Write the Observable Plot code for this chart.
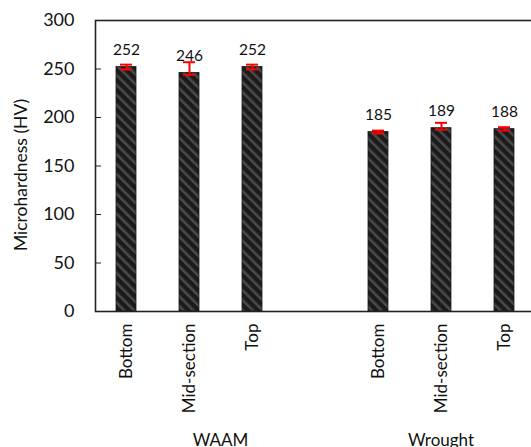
<!DOCTYPE html>
<html>
<head>
<meta charset="utf-8">
<script src="https://cdn.jsdelivr.net/npm/d3@7"></script>
<script src="https://cdn.jsdelivr.net/npm/@observablehq/plot@0.6"></script>
<style>
  body { margin: 0; background: #fff; }
  #chart svg { overflow: hidden; display: block; }
</style>
</head>
<body>
<div id="chart"></div>
<script>
// Microhardness of WAAM and wrought samples by sampling position
const groups = ["WAAM", "WAAM", "WAAM", "Wrought", "Wrought", "Wrought"];
const positions = ["Bottom", "Mid-section", "Top", "Bottom", "Mid-section", "Top"];
const hardness = [252, 246, 252, 185, 189, 188];
const errLow = [249.5, 244, 249.5, 183.5, 187.5, 186.5];
const errHigh = [254.5, 257, 254.5, 186.5, 194.5, 190];
const groupNames = ["WAAM", "Wrought"];
const yTicks = [0, 50, 100, 150, 200, 250, 300];

const key = (g, p) => g + "|" + p;
const rows = hardness.map((v, i) => ({
  key: key(groups[i], positions[i]),
  group: groups[i],
  value: v,
  low: errLow[i],
  high: errHigh[i]
}));

// an empty slot closes the WAAM group before the wrought samples
const domain = [
  ...rows.filter(d => d.group === "WAAM").map(d => d.key),
  key("WAAM", ""),
  ...rows.filter(d => d.group === "Wrought").map(d => d.key)
];

// group captions centred under the slots of each group
function groupLabels(index, scales, values, dims) {
  const x = scales.x;
  const bw = typeof x.bandwidth === "function" ? x.bandwidth() : +x.bandwidth || 0;
  const g = d3.create("svg:g")
    .attr("font-size", 17)
    .attr("fill", "#111")
    .attr("text-anchor", "middle");
  for (const name of groupNames) {
    const keys = domain.filter(k => k.startsWith(name + "|"));
    const cx = (x(keys[0]) + x(keys[keys.length - 1]) + bw) / 2;
    g.append("text").attr("x", cx).attr("y", dims.height - 1).text(name);
  }
  return g.node();
}

const chart = Plot.plot({
  width: 531,
  height: 447,
  marginLeft: 95,
  marginRight: -5,
  marginTop: 20,
  marginBottom: 136,
  style: { fontFamily: "Lato", fontSize: "17px", color: "#111", background: "#fff" },
  x: {
    type: "band",
    domain,
    paddingInner: 0.68,
    paddingOuter: 0.34,
    label: null
  },
  y: { domain: [0, 300], label: null },
  marks: [
    Plot.barY(rows, { x: "key", y: "value", fill: "url(#hatch)", stroke: "#1a1a1a", strokeWidth: 0.8 }),
    Plot.ruleX(rows, { x: "key", y1: "low", y2: "high", stroke: "#ff0000", strokeWidth: 2 }),
    Plot.tickY(rows, { x: "key", y: "low", stroke: "#ff0000", strokeWidth: 2, inset: 4 }),
    Plot.tickY(rows, { x: "key", y: "high", stroke: "#ff0000", strokeWidth: 2, inset: 4 }),
    Plot.text(rows, { x: "key", y: "value", text: d => String(d.value), dy: -12, lineAnchor: "bottom", fontSize: 15.5, fill: "#111" }),
    Plot.axisY({ ticks: yTicks, tickSize: -6, tickPadding: 27, label: null, stroke: "#222", fontSize: 18 }),
    Plot.axisX({ tickRotate: -90, tickSize: 0, tickPadding: 12, label: null, tickFormat: d => d.split("|")[1] }),
    Plot.frame({ stroke: "#222", strokeWidth: 1.6 }),
    Plot.text(["Microhardness (HV)"], { frameAnchor: "left", textAnchor: "middle", dx: -74, dy: 9, rotate: -90, fontSize: 17.5, fill: "#111" }),
    groupLabels
  ]
});

// diagonal hatch used as the bar fill
const svg = d3.select(chart.tagName.toLowerCase() === "svg" ? chart : chart.querySelector("svg"));
const defs = svg.insert("defs", ":first-child");
const pat = defs.append("pattern")
  .attr("id", "hatch")
  .attr("patternUnits", "userSpaceOnUse")
  .attr("width", 7)
  .attr("height", 7)
  .attr("patternTransform", "rotate(-45)");
pat.append("rect").attr("width", 7).attr("height", 7).attr("fill", "#1b1b1b");
pat.append("rect").attr("width", 2.6).attr("height", 7).attr("fill", "#4a4a4a");

document.getElementById("chart").append(chart);
</script>
</body>
</html>
